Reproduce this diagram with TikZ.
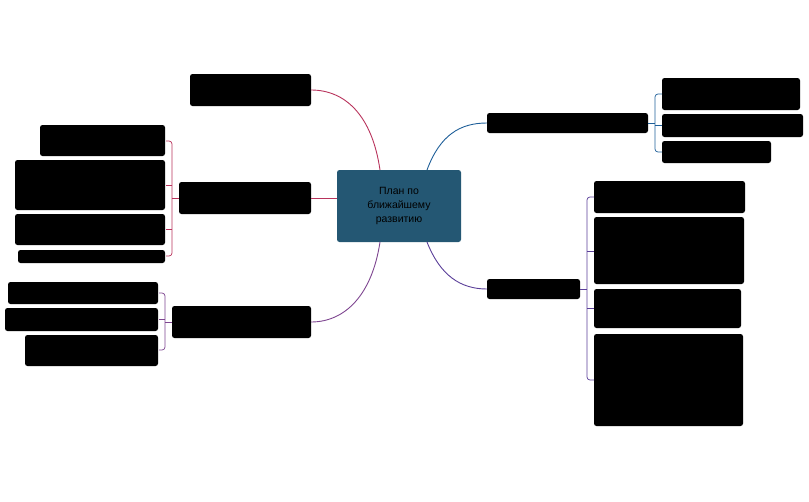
\documentclass[tikz,border=0pt]{standalone}
\usepackage{fontspec}
\setmainfont{Liberation Sans}
\begin{document}
\begin{tikzpicture}[x=1pt,y=-1pt,
  blk/.style={fill=black,rounded corners=2.5pt,draw=none},
  ln/.style={line width=0.9pt}]
\definecolor{cred}{HTML}{B8335C}
\definecolor{cpur}{HTML}{7E4590}
\definecolor{cblu}{HTML}{1F5F99}
\definecolor{cvio}{HTML}{5B3F99}
\definecolor{cbox}{HTML}{245773}
\useasboundingbox (0,0) rectangle (809,501);
% center
\node[fill=cbox,rounded corners=2.5pt,minimum width=124pt,minimum height=72pt,align=center,font=\fontsize{10.5}{14}\selectfont] (c) at (399,206) {План по\\ближайшему\\развитию};
% left top
\fill[blk] (190,74) rectangle (311,106); \coordinate (lt) at (311,90);
% left mid
\fill[blk] (179,182) rectangle (311,214); \coordinate (lm) at (311,198);
\fill[blk] (40,125) rectangle (165,156);
\fill[blk] (15,160) rectangle (165,210);
\fill[blk] (15,214) rectangle (165,245);
\fill[blk] (18,250) rectangle (165,263);
% left bottom
\fill[blk] (172,306) rectangle (311,338); \coordinate (lb) at (311,322);
\fill[blk] (8,282) rectangle (158,304);
\fill[blk] (5,308) rectangle (158,331);
\fill[blk] (25,335) rectangle (158,366);
% right top
\fill[blk] (487,113) rectangle (648,133); \coordinate (rt) at (487,123);
\fill[blk] (662,78) rectangle (800,110);
\fill[blk] (662,114) rectangle (803,137);
\fill[blk] (662,141) rectangle (771,163);
% right bottom
\fill[blk] (487,279) rectangle (580,299); \coordinate (rb) at (487,289);
\fill[blk] (594,181) rectangle (745,213);
\fill[blk] (594,217) rectangle (744,284);
\fill[blk] (594,289) rectangle (741,328);
\fill[blk] (594,334) rectangle (743,426);
% main connectors
\draw[ln,cred] (380,170) .. controls (372,115) and (345,90) .. (lt);
\draw[ln,cred] (c.west |- lm) -- (lm);
\draw[ln,cpur] (380,242) .. controls (372,295) and (345,322) .. (lb);
\draw[ln,cblu] (427,170) .. controls (440,135) and (460,123) .. (rt);
\draw[ln,cvio] (427,242) .. controls (440,275) and (460,289) .. (rb);
% brackets
\draw[cred,line width=0.7pt,rounded corners=3pt] (166,141) -- (172,141) -- (172,256) -- (166,256);
\draw[cred,line width=0.7pt] (179,198) -- (172,198) (172,185)--(166,185) (172,229)--(166,229);
\draw[cpur,line width=0.7pt,rounded corners=3pt] (159,293) -- (165,293) -- (165,350) -- (159,350);
\draw[cpur,line width=0.7pt] (172,322) -- (165,322) (165,319)--(159,319);
\draw[cblu,line width=0.7pt,rounded corners=3pt] (662,94) -- (655,94) -- (655,152) -- (662,152);
\draw[cblu,line width=0.7pt] (648,123) -- (655,123) (655,125)--(662,125);
\draw[cvio,line width=0.7pt,rounded corners=3pt] (594,197) -- (587,197) -- (587,380) -- (594,380);
\draw[cvio,line width=0.7pt] (580,289) -- (587,289) (587,251)--(594,251) (587,308)--(594,308);
\end{tikzpicture}
\end{document}
